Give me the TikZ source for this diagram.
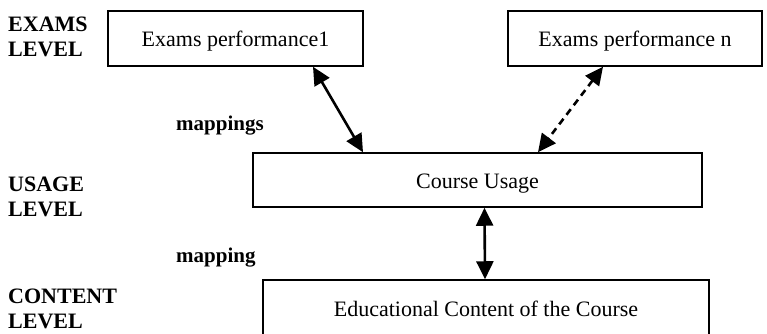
\documentclass[tikz,border=0pt]{standalone}
\usepackage{fontspec}
\setmainfont{Liberation Serif}
\usetikzlibrary{arrows.meta}

\tikzset{LevelBox/.style={draw,line width=1.5pt,inner sep=0pt,text height=17pt,text depth=0pt,
           font=\fontsize{22}{25}\selectfont},
         LevelName/.style={anchor=north west,align=left,inner sep=0pt,
           font=\fontsize{22}{25}\selectfont\bfseries},
         MapLabel/.style={anchor=base west,inner sep=0pt,font=\fontsize{21}{25}\selectfont\bfseries},
         MapArrow/.style={line width=2.6pt,{Triangle[length=18pt,width=17pt]}-{Triangle[length=18pt,width=17pt]}}}

\begin{document}
\begin{tikzpicture}[x=1pt,y=-1pt]
  \useasboundingbox (0,0) rectangle (767,334);
  % boxes of the three levels
  \node[LevelBox,minimum width=255pt,minimum height=55pt] (perf1) at (235.5,38.5) {Exams performance1};
  \node[LevelBox,minimum width=254pt,minimum height=55pt] (perfn) at (635,38.5) {Exams performance n};
  \node[LevelBox,minimum width=449pt,minimum height=54pt] (usage) at (477.5,180) {Course Usage};
  \node[LevelBox,minimum width=446pt,minimum height=56pt] (content) at (486,308) {Educational Content of the Course};
  % level names on the left
  \node[LevelName] (examsLvl) at (8,17) {EXAMS\\LEVEL};
  \node[LevelName] (usageLvl) at (8,177) {USAGE\\LEVEL};
  \node[LevelName] (contentLvl) at (8,289) {CONTENT\\LEVEL};
  \node[MapLabel] (maps) at (176,130) {mappings};
  \node[MapLabel] (map) at (176,262) {mapping};
  % mappings between the levels
  \draw[MapArrow] ([xshift=77.5pt]perf1.south) -- ([xshift=-114.5pt]usage.north);
  \draw[MapArrow,dash pattern=on 7pt off 5pt] ([xshift=-32pt]perfn.south) -- ([xshift=60.5pt]usage.north);
  \draw[MapArrow] ([xshift=7pt]usage.south) -- ([xshift=-1pt]content.north);
\end{tikzpicture}
\end{document}
